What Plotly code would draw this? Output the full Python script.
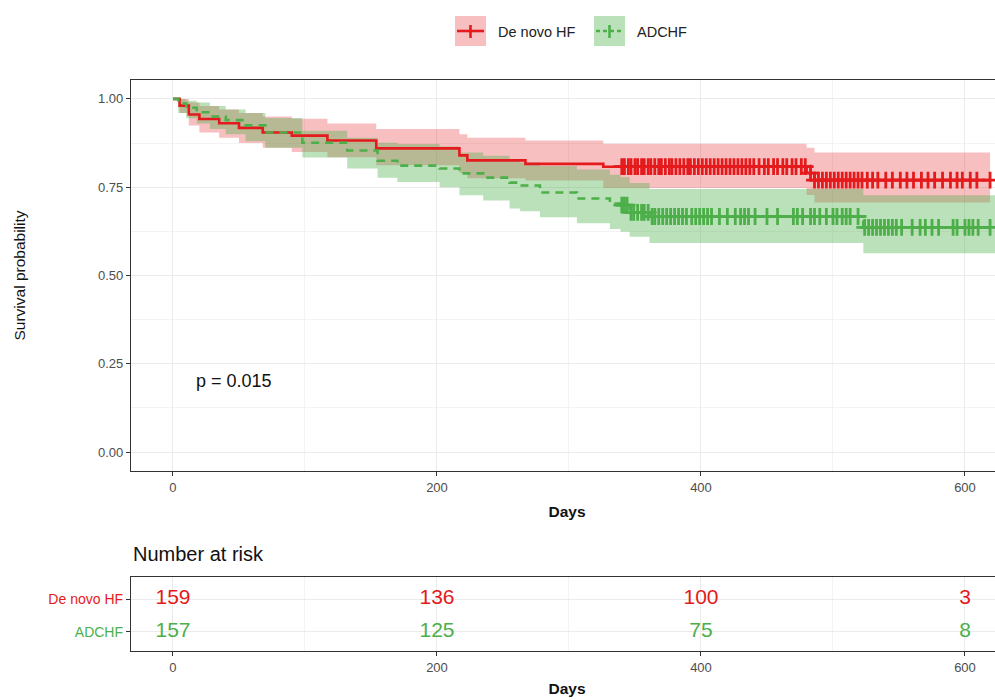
import numpy as np
import plotly.graph_objects as go

# ---------------- data ----------------
groups = ["De novo HF", "ADCHF"]

# De novo HF: KM steps (days), survival, CI
red_t = [0, 5, 12, 20, 35, 50, 68, 90, 117, 154, 217, 223, 267, 326, 480, 486]
red_s = [1.0, 0.981, 0.956, 0.943, 0.931, 0.918, 0.905, 0.896, 0.882, 0.860, 0.840, 0.826, 0.816, 0.808, 0.790, 0.770]
red_up = [1.0, 1.0, 0.99, 0.98, 0.97, 0.96, 0.95, 0.944, 0.93, 0.915, 0.90, 0.89, 0.882, 0.873, 0.862, 0.848]
red_lo = [1.0, 0.96, 0.925, 0.905, 0.89, 0.875, 0.862, 0.85, 0.835, 0.812, 0.79, 0.775, 0.769, 0.748, 0.728, 0.707]
red_end = 619
red_censor = [340, 342, 345, 347, 350, 352, 355, 357, 360, 362, 365, 368, 370, 373, 376, 378,
              381, 384, 387, 390, 392, 395, 398, 401, 404, 407, 410, 413, 416, 419, 422, 425,
              428, 431, 434, 437, 440, 444, 448, 451, 455, 458, 462, 465, 469, 472, 476, 479,
              483, 486, 489, 492, 495, 498, 501, 504, 507, 510, 513, 516, 519, 522, 526, 530,
              534, 540, 545, 551, 556, 561, 567, 572, 577, 583, 589, 594, 598, 604, 609, 619]

# ADCHF
grn_t = [0, 4, 10, 18, 28, 40, 55, 70, 98, 132, 155, 170, 202, 217, 235, 255, 263, 278, 306, 331, 339, 346, 361, 523]
grn_s = [1.0, 0.987, 0.975, 0.962, 0.950, 0.940, 0.925, 0.905, 0.876, 0.854, 0.825, 0.811, 0.803, 0.789,
         0.777, 0.763, 0.755, 0.735, 0.718, 0.704, 0.699, 0.679, 0.667, 0.636]
grn_up = [1.0, 1.0, 0.995, 0.99, 0.98, 0.97, 0.96, 0.946, 0.91, 0.89, 0.876, 0.872, 0.865, 0.848,
          0.839, 0.83, 0.82, 0.81, 0.80, 0.785, 0.778, 0.762, 0.745, 0.727]
grn_lo = [1.0, 0.96, 0.945, 0.93, 0.915, 0.90, 0.88, 0.862, 0.834, 0.803, 0.777, 0.765, 0.75, 0.727,
          0.712, 0.69, 0.682, 0.665, 0.648, 0.632, 0.624, 0.61, 0.592, 0.563]
grn_end = 640
grn_censor = [340, 342, 344, 347, 349, 352, 355, 357, 360, 363, 365, 368, 371, 374, 377, 380, 383,
              386, 389, 393, 396, 399, 402, 405, 408, 414, 420, 426, 430, 433, 436, 441, 450, 458,
              470, 473, 477, 483, 486, 490, 495, 500, 503, 507, 510, 513, 519, 524, 527, 530, 533,
              536, 539, 542, 545, 548, 552, 560, 566, 570, 575, 580, 591, 594, 600, 603, 606, 610, 619]

risk_times = [0, 200, 400, 600]
risk_red = [159, 136, 100, 3]
risk_grn = [157, 125, 75, 8]
p_text = "p = 0.015"

x_ticks = [0, 200, 400, 600]
y_ticks = [0, 0.25, 0.5, 0.75, 1.0]
y_ticktext = ["0.00", "0.25", "0.50", "0.75", "1.00"]

# ---------------- styling ----------------
RED = "#E41A1C"
GRN = "#4DAF4A"
RED_FILL = "rgba(228,26,28,0.28)"
GRN_FILL = "rgba(77,175,74,0.38)"
AXC = "#333333"
TICKC = "#4d4d4d"
FONT = "Liberation Sans, Arial, sans-serif"

# figure is slightly wider than the window so the plot runs off the right edge (as in the reference)
W, H = 1003, 700
ML, MR, MT, MB = 131, 0, 80, 49
PW, PH = W - ML - MR, H - MT - MB
PX_PER_DAY = 1.32
X_LEFT = -31.8


def px_x(px):
    return (px - ML) / PW


def px_y(py):
    return (H - MB - py) / PH


def ext(t, v, end):
    return list(t) + [end], list(v) + [v[-1]]


def at(t, v, c):
    idx = np.searchsorted(np.array(t), np.array(c), side="right") - 1
    return list(np.array(v)[idx])


fig = go.Figure()

series = [
    (groups[0], red_t, red_s, red_lo, red_up, red_end, red_censor, RED, RED_FILL, "solid"),
    (groups[1], grn_t, grn_s, grn_lo, grn_up, grn_end, grn_censor, GRN, GRN_FILL, "8px,6px"),
]

# bands
for name, t, s, lo, up, end, cens, col, fillc, dash in series:
    xl, yl = ext(t, lo, end)
    xu, yu = ext(t, up, end)
    fig.add_trace(go.Scatter(x=xl, y=yl, mode="lines", line=dict(width=0, shape="hv"),
                             showlegend=False, hoverinfo="skip"))
    fig.add_trace(go.Scatter(x=xu, y=yu, mode="lines", line=dict(width=0, shape="hv"),
                             fill="tonexty", fillcolor=fillc, showlegend=False, hoverinfo="skip"))

# lines and censor marks
for name, t, s, lo, up, end, cens, col, fillc, dash in series:
    xs, ys = ext(t, s, end)
    fig.add_trace(go.Scatter(x=xs, y=ys, mode="lines", line=dict(color=col, width=2.6, shape="hv", dash=dash),
                             showlegend=False, name=name))
    fig.add_trace(go.Scatter(x=cens, y=at(t, s, cens), mode="markers",
                             marker=dict(symbol="cross-thin", size=12, line=dict(width=2.8, color=col)),
                             showlegend=False, hoverinfo="skip"))

# risk table
fig.add_trace(go.Scatter(x=risk_times, y=[2] * len(risk_times), mode="text",
                         text=[str(v) for v in risk_red], textfont=dict(size=21, color=RED, family=FONT),
                         xaxis="x2", yaxis="y2", showlegend=False, hoverinfo="skip"))
fig.add_trace(go.Scatter(x=risk_times, y=[1] * len(risk_times), mode="text",
                         text=[str(v) for v in risk_grn], textfont=dict(size=21, color=GRN, family=FONT),
                         xaxis="x2", yaxis="y2", showlegend=False, hoverinfo="skip"))

# manual legend (key boxes with line + cross, then label)
shapes = []
annotations = []
legend_items = [(groups[0], 455, RED, RED_FILL, "solid"), (groups[1], 594, GRN, GRN_FILL, "4px,3px")]
for name, x0, col, fillc, dash in legend_items:
    shapes.append(dict(type="rect", xref="paper", yref="paper", x0=px_x(x0), x1=px_x(x0 + 31),
                       y0=px_y(46), y1=px_y(16), fillcolor=fillc, line=dict(width=0), layer="above"))
    shapes.append(dict(type="line", xref="paper", yref="paper", x0=px_x(x0 + 2), x1=px_x(x0 + 29),
                       y0=px_y(31), y1=px_y(31), line=dict(color=col, width=2.6, dash=dash),
                       layer="above"))
    shapes.append(dict(type="line", xref="paper", yref="paper", x0=px_x(x0 + 15.5), x1=px_x(x0 + 15.5),
                       y0=px_y(25), y1=px_y(38), line=dict(color=col, width=2.6), layer="above"))
    annotations.append(dict(text=name, x=px_x(x0 + 41), y=px_y(32), xref="paper", yref="paper",
                            xanchor="left", yanchor="middle", showarrow=False,
                            font=dict(size=14.5, color="#222", family=FONT)))

annotations += [
    dict(text=p_text, x=16, y=0.2, xref="x", yref="y", xanchor="left", yanchor="middle",
         showarrow=False, font=dict(size=18, color="#111", family=FONT)),
    dict(text="Number at risk", x=0, y=px_y(554), xref="paper", yref="paper",
         showarrow=False, xanchor="left", yanchor="middle",
         font=dict(size=20, color="#111", family=FONT)),
]

xr = [X_LEFT, X_LEFT + PW / PX_PER_DAY]
axis_common = dict(showline=True, linecolor=AXC, linewidth=1.3, ticks="outside", ticklen=4,
                   tickcolor=AXC, automargin=False,
                   gridcolor="#ebebeb", gridwidth=1, zeroline=False)
tf = dict(size=13, color=TICKC, family=FONT)

fig.update_layout(
    width=W, height=H,
    margin=dict(l=ML, r=MR, t=MT, b=MB, autoexpand=False),
    paper_bgcolor="white", plot_bgcolor="white",
    font=dict(family=FONT),
    showlegend=False,
    shapes=shapes,
    annotations=annotations,
    xaxis=dict(domain=[0, 1], range=xr, tickvals=x_ticks, anchor="y", mirror=True, tickfont=tf,
               title=dict(text="<b>Days</b>", font=dict(size=15.5, color="#111"), standoff=12),
               minor=dict(showgrid=True, gridcolor="#f3f3f3", dtick=100, tick0=0),
               **axis_common),
    yaxis=dict(domain=[px_y(471), 1], range=[-0.0535, 1.0535], tickvals=y_ticks, ticktext=y_ticktext,
               anchor="x", tickfont=tf,
               title=dict(text="Survival probability", font=dict(size=15.5, color="#111"), standoff=68),
               minor=dict(showgrid=True, gridcolor="#f3f3f3", dtick=0.125, tick0=0),
               **axis_common),
    xaxis2=dict(domain=[0, 1], range=xr, tickvals=x_ticks, anchor="y2", mirror=True, tickfont=tf,
                title=dict(text="<b>Days</b>", font=dict(size=15.5, color="#111"), standoff=9),
                minor=dict(showgrid=True, gridcolor="#f3f3f3", dtick=100, tick0=0),
                **axis_common),
    yaxis2=dict(domain=[0, px_y(577)], range=[0.42, 2.67], tickvals=[2, 1],
                ticktext=[f'<span style="color:{RED}">{groups[0]}</span>',
                          f'<span style="color:{GRN}">{groups[1]}</span>'],
                anchor="x2", tickfont=dict(size=14, family=FONT), **axis_common),
)

fig.write_html("out.html", config={"displayModeBar": False},
               post_script="document.body.style.margin='0';document.body.style.overflow='hidden';")
